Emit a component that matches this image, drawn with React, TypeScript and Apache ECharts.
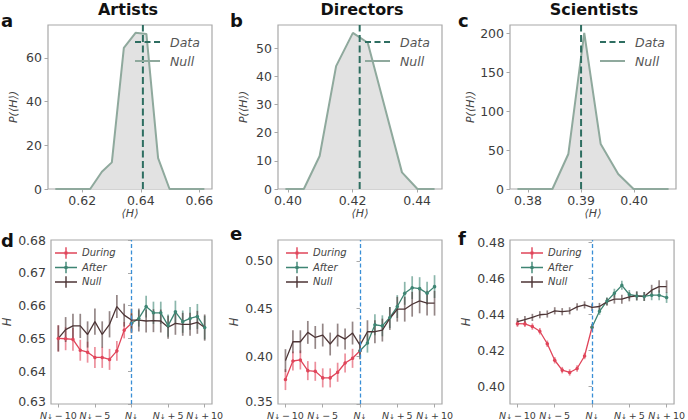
import React, { useEffect, useRef } from 'react';
import * as echarts from 'echarts';

const FONT = '"DejaVu Sans", sans-serif';

const panelNames = ['Artists', 'Directors', 'Scientists'];
const topLetters = ['a', 'b', 'c'];
const bottomLetters = ['d', 'e', 'f'];

// ---- Top row: null distribution of <H> ----
const artistsNullH = [0.6108, 0.6227, 0.6267, 0.6301, 0.6342, 0.6382, 0.6419, 0.6459, 0.6498, 0.6617];
const artistsNullP = [0, 0, 7.9, 12.2, 64.6, 71.5, 71.0, 14.1, 0, 0];
const directorsNullH = [0.3992, 0.4049, 0.4098, 0.4149, 0.4201, 0.4247, 0.4300, 0.4353, 0.4401, 0.4454];
const directorsNullP = [0, 0, 11.7, 43.6, 55.4, 51.9, 28.9, 5.9, 0, 0];
const scientistsNullH = [0.3780, 0.3846, 0.3876, 0.3906, 0.3937, 0.3970, 0.3999, 0.4065];
const scientistsNullP = [0, 0, 45, 201, 57.8, 19.3, 0, 0];
const dataH = [0.6407, 0.4222, 0.3900];

const topXMin = [0.6083, 0.3969, 0.3766];
const topXMax = [0.6643, 0.4477, 0.4079];
const topYMax = [75.1, 58.2, 211];
const topXTicks = [[0.62, 0.64, 0.66], [0.40, 0.42, 0.44], [0.38, 0.39, 0.40]];
const topYTicks = [[0, 20, 40, 60], [0, 10, 20, 30, 40, 50], [0, 50, 100, 150, 200]];

// ---- Bottom row: H around the event ----
const offsetsDuring = [-10, -9, -8, -7, -6, -5, -4, -3, -2, -1, 0];
const offsetsAfter = [0, 1, 2, 3, 4, 5, 6, 7, 8, 9, 10];
const offsetsNull = [-10, -9, -8, -7, -6, -5, -4, -3, -2, -1, 0, 1, 2, 3, 4, 5, 6, 7, 8, 9, 10];

const artistsDuring = [0.6500, 0.6499, 0.6497, 0.6464, 0.6458, 0.6442, 0.6442, 0.6436, 0.6462, 0.6525, 0.6546];
const artistsDuringErr = [0.0040, 0.0035, 0.0035, 0.0032, 0.0032, 0.0032, 0.0032, 0.0032, 0.0030, 0.0025, 0.0030];
const artistsAfter = [0.6546, 0.6561, 0.6597, 0.6578, 0.6578, 0.6539, 0.6581, 0.6551, 0.6561, 0.6567, 0.6533];
const artistsAfterErr = [0.0030, 0.0025, 0.0033, 0.0034, 0.0034, 0.0034, 0.0034, 0.0034, 0.0035, 0.0038, 0.0036];
const artistsNull = [0.6500, 0.6527, 0.6538, 0.6538, 0.6512, 0.6551, 0.6512, 0.6543, 0.6597, 0.6571, 0.6556, 0.6556, 0.6553, 0.6554, 0.6553, 0.6534, 0.6546, 0.6543, 0.6543, 0.6549, 0.6533];
const artistsNullErr = [0.0040, 0.0038, 0.0037, 0.0037, 0.0040, 0.0040, 0.0040, 0.0040, 0.0035, 0.0035, 0.0035, 0.0035, 0.0035, 0.0035, 0.0035, 0.0035, 0.0035, 0.0035, 0.0035, 0.0035, 0.0040];

const directorsDuring = [0.3756, 0.3951, 0.3962, 0.3850, 0.3843, 0.3774, 0.3774, 0.3833, 0.3930, 0.3979, 0.4059];
const directorsDuringErr = [0.011, 0.010, 0.010, 0.010, 0.010, 0.010, 0.010, 0.010, 0.010, 0.010, 0.009];
const directorsAfter = [0.4059, 0.4139, 0.4331, 0.4320, 0.4407, 0.4522, 0.4661, 0.4720, 0.4710, 0.4661, 0.4731];
const directorsAfterErr = [0.009, 0.010, 0.011, 0.011, 0.011, 0.012, 0.012, 0.012, 0.012, 0.012, 0.012];
const directorsNull = [0.3955, 0.4153, 0.4153, 0.4251, 0.4198, 0.4223, 0.4129, 0.4223, 0.4181, 0.4244, 0.4118, 0.4258, 0.4258, 0.4275, 0.4397, 0.4494, 0.4494, 0.4546, 0.4581, 0.4557, 0.4557];
const directorsNullErr = [0.012, 0.012, 0.012, 0.012, 0.012, 0.012, 0.012, 0.012, 0.011, 0.012, 0.011, 0.012, 0.012, 0.012, 0.012, 0.013, 0.013, 0.013, 0.013, 0.013, 0.013];

const scientistsDuring = [0.4348, 0.4347, 0.4332, 0.4306, 0.4236, 0.4144, 0.4089, 0.4076, 0.4098, 0.4168, 0.4328];
const scientistsDuringErr = [0.0018, 0.0018, 0.0018, 0.0018, 0.0018, 0.0018, 0.0018, 0.0018, 0.0018, 0.0018, 0.0018];
const scientistsAfter = [0.4328, 0.4417, 0.4474, 0.4518, 0.4562, 0.4511, 0.4503, 0.4500, 0.4507, 0.4507, 0.4494];
const scientistsAfterErr = [0.0020, 0.0020, 0.0022, 0.0025, 0.0025, 0.0025, 0.0025, 0.0025, 0.0028, 0.0028, 0.0030];
const scientistsNull = [0.4359, 0.4371, 0.4383, 0.4398, 0.4402, 0.4420, 0.4415, 0.4420, 0.4442, 0.4453, 0.4439, 0.4444, 0.4470, 0.4485, 0.4485, 0.4498, 0.4503, 0.4500, 0.4535, 0.4555, 0.4555];
const scientistsNullErr = [0.0020, 0.0020, 0.0020, 0.0020, 0.0020, 0.0020, 0.0020, 0.0020, 0.0020, 0.0020, 0.0020, 0.0020, 0.0022, 0.0025, 0.0025, 0.0025, 0.0025, 0.0025, 0.0030, 0.0035, 0.0035];

const bottomYMin = [0.63, 0.35, 0.39];
const bottomYMax = [0.68, 0.522, 0.4815];
const bottomYTicks = [[0.63, 0.64, 0.65, 0.66, 0.67, 0.68], [0.35, 0.40, 0.45, 0.50], [0.40, 0.42, 0.44, 0.46, 0.48]];
const bottomXTicks = [-10, -5, 0, 5, 10];
const bottomXTickLabels = ['N↓\u2009−\u200910', 'N↓\u2009−\u20095', 'N↓', 'N↓\u2009+\u20095', 'N↓\u2009+\u200910'];

const C_DURING = '#e0455a';
const C_AFTER = '#3e8573';
const C_NULLB = '#4d3536';
const C_NULLT = '#8fa99d';
const C_FILL = '#e2e2e2';
const C_DATA = '#2e6e61';
const C_VLINE = '#3a8fd6';
const C_AXIS = '#a8a8a8';
const C_TICKLABEL = '#3d3d3d';

const ICON_SOLID = 'path://M0,0H25V2H0Z';
const ICON_DASH = 'path://M0,0H6V2H0Z M9.5,0H15.5V2H9.5Z M19,0H25V2H19Z';
const ICON_ERR_DOT = 'path://M0,5H22V6.3H0Z M10.3,0H11.7V11.3H10.3Z M9.5,4.2H12.5V7.1H9.5Z';
const ICON_ERR = 'path://M0,5H22V6.3H0Z M10.3,0H11.7V11.3H10.3Z';

export default function App() {
  const ref = useRef<HTMLDivElement>(null);

  useEffect(() => {
    if (!ref.current) return;
    const chart = echarts.init(ref.current, null, { renderer: 'svg' });

    const topNull = [
      [artistsNullH, artistsNullP],
      [directorsNullH, directorsNullP],
      [scientistsNullH, scientistsNullP],
    ];
    const bottomData = [
      [artistsDuring, artistsDuringErr, artistsAfter, artistsAfterErr, artistsNull, artistsNullErr],
      [directorsDuring, directorsDuringErr, directorsAfter, directorsAfterErr, directorsNull, directorsNullErr],
      [scientistsDuring, scientistsDuringErr, scientistsAfter, scientistsAfterErr, scientistsNull, scientistsNullErr],
    ];

    const lefts = [48, 278, 510];
    const widths = [164, 164, 166];
    const topLegendLeft = [135, 365, 600];
    const bottomLegendLeft = [55, 286, 521];

    const grids: any[] = [];
    const xAxes: any[] = [];
    const yAxes: any[] = [];
    const series: any[] = [];
    const legends: any[] = [];
    const graphics: any[] = [];

    const tickStyle = { show: true, length: 3.5, lineStyle: { color: C_AXIS, width: 1 } };
    const labelBase = { color: C_TICKLABEL, fontSize: 12.5, fontFamily: FONT, hideOverlap: false, showMinLabel: true, showMaxLabel: true, interval: 0 };

    const errRender = (color: string) => (params: any, api: any) => {
      const x = api.value(0);
      const p1 = api.coord([x, api.value(1)]);
      const p2 = api.coord([x, api.value(2)]);
      return {
        type: 'line',
        shape: { x1: p1[0], y1: p1[1], x2: p2[0], y2: p2[1] },
        style: { stroke: color, lineWidth: 1.7, opacity: 0.6 },
      };
    };

    for (let i = 0; i < 3; i++) {
      // ---- top panel ----
      const gi = 2 * i;
      grids.push({ left: lefts[i], top: 25, width: widths[i], height: 164, show: true, borderColor: C_AXIS, borderWidth: 1.2, backgroundColor: 'transparent' });
      xAxes.push({
        type: 'value', gridIndex: gi, min: topXMin[i], max: topXMax[i],
        axisLine: { show: false }, splitLine: { show: false },
        axisTick: { ...tickStyle, customValues: topXTicks[i] },
        axisLabel: { ...labelBase, margin: 5, customValues: topXTicks[i], formatter: (v: number) => v.toFixed(2) },
        name: '⟨H⟩', nameLocation: 'middle', nameGap: 18,
        nameTextStyle: { fontStyle: 'italic', fontSize: 11, color: '#444', fontFamily: FONT },
      });
      yAxes.push({
        type: 'value', gridIndex: gi, min: 0, max: topYMax[i],
        axisLine: { show: false }, splitLine: { show: false },
        axisTick: { ...tickStyle, customValues: topYTicks[i] },
        axisLabel: { ...labelBase, margin: 6, customValues: topYTicks[i] },
        name: 'P(⟨H⟩)', nameLocation: 'middle', nameGap: 29, nameRotate: 90,
        nameTextStyle: { fontStyle: 'italic', fontSize: 11, color: '#444', fontFamily: FONT },
      });
      const [hx, py] = topNull[i];
      series.push({
        type: 'line', name: 'Null·' + topLetters[i], xAxisIndex: gi, yAxisIndex: gi,
        data: hx.map((h, j) => [h, py[j]]), symbol: 'none',
        lineStyle: { color: C_NULLT, width: 2 }, itemStyle: { color: C_NULLT },
        areaStyle: { color: C_FILL, opacity: 1 }, z: 2,
      });
      series.push({
        type: 'line', name: 'Data·' + topLetters[i], xAxisIndex: gi, yAxisIndex: gi,
        data: [[dataH[i], 0], [dataH[i], topYMax[i]]], symbol: 'none',
        lineStyle: { color: C_DATA, width: 2, type: [7, 3.5] }, itemStyle: { color: C_DATA }, z: 3,
      });
      legends.push({
        left: topLegendLeft[i], top: 35, orient: 'vertical', padding: 0, itemGap: 5,
        itemWidth: 25, itemHeight: 2, selectedMode: false,
        itemStyle: { borderWidth: 0 },
        data: [
          { name: 'Data·' + topLetters[i], icon: ICON_DASH, itemStyle: { color: C_DATA } },
          { name: 'Null·' + topLetters[i], icon: ICON_SOLID, itemStyle: { color: C_NULLT } },
        ],
        formatter: (n: string) => n.split('·')[0],
        textStyle: { fontStyle: 'italic', fontSize: 12.5, color: '#555', fontFamily: FONT, lineHeight: 14, padding: [0, 0, 0, 5] },
      });

      // ---- bottom panel ----
      const bi = 2 * i + 1;
      const yMin = bottomYMin[i];
      grids.push({ left: lefts[i], top: 240, width: widths[i], height: 165, show: true, borderColor: C_AXIS, borderWidth: 1.2, backgroundColor: 'transparent' });
      xAxes.push({
        type: 'value', gridIndex: bi, min: -11, max: 11,
        axisLine: { show: false }, splitLine: { show: false },
        axisTick: { ...tickStyle, customValues: bottomXTicks },
        axisLabel: {
          color: C_TICKLABEL, fontFamily: FONT, margin: 6, customValues: bottomXTicks,
          hideOverlap: false, showMinLabel: true, showMaxLabel: true, interval: 0,
          formatter: (v: number) => {
            const lab = bottomXTickLabels[bottomXTicks.indexOf(v)] || '';
            return `{n|${lab[0]}}{s|${lab[1]}}` + (lab.length > 2 ? `{t|${lab.slice(2)}}` : '');
          },
          rich: {
            n: { fontSize: 9.5, fontStyle: 'italic', color: C_TICKLABEL, fontFamily: FONT, lineHeight: 10 },
            s: { fontSize: 7, color: C_TICKLABEL, fontFamily: FONT, lineHeight: 7, verticalAlign: 'bottom' },
            t: { fontSize: 9.5, color: C_TICKLABEL, fontFamily: FONT, lineHeight: 10 },
          },
        },
      });
      yAxes.push({
        type: 'value', gridIndex: bi, min: yMin, max: bottomYMax[i],
        axisLine: { show: false }, splitLine: { show: false },
        axisTick: { ...tickStyle, customValues: bottomYTicks[i] },
        axisLabel: {
          ...labelBase, fontSize: 12.5, lineHeight: 9, margin: 5, customValues: bottomYTicks[i],
          formatter: (v: number) => (Math.abs(v - yMin) < 1e-9 ? `{lo|${v.toFixed(2)}}` : v.toFixed(2)),
          rich: {
            lo: { fontSize: 12.5, color: C_TICKLABEL, fontFamily: FONT, lineHeight: 9, padding: [0, 0, 5, 0] },
          },
        },
        name: 'H', nameLocation: 'middle', nameGap: 38, nameRotate: 90,
        nameTextStyle: { fontStyle: 'italic', fontSize: 11.5, color: '#444', fontFamily: FONT },
      });
      const [dur, durE, aft, aftE, nul, nulE] = bottomData[i];
      const L = bottomLetters[i];
      series.push({
        type: 'custom', xAxisIndex: bi, yAxisIndex: bi, renderItem: errRender(C_DURING),
        data: offsetsDuring.map((x, j) => [x, dur[j] - durE[j], dur[j] + durE[j]]),
        encode: { x: 0, y: [1, 2] }, z: 1, silent: true,
      });
      series.push({
        type: 'custom', xAxisIndex: bi, yAxisIndex: bi, renderItem: errRender(C_AFTER),
        data: offsetsAfter.map((x, j) => [x, aft[j] - aftE[j], aft[j] + aftE[j]]),
        encode: { x: 0, y: [1, 2] }, z: 1, silent: true,
      });
      series.push({
        type: 'custom', xAxisIndex: bi, yAxisIndex: bi, renderItem: errRender(C_NULLB),
        data: offsetsNull.map((x, j) => [x, nul[j] - nulE[j], nul[j] + nulE[j]]),
        encode: { x: 0, y: [1, 2] }, z: 1, silent: true,
      });
      series.push({
        type: 'line', name: 'During·' + L, xAxisIndex: bi, yAxisIndex: bi,
        data: offsetsDuring.map((x, j) => [x, dur[j]]), symbol: 'circle', symbolSize: 3.5,
        lineStyle: { color: C_DURING, width: 1.3 }, itemStyle: { color: C_DURING }, z: 3,
        markLine: {
          silent: true, symbol: ['none', 'none'], label: { show: false },
          lineStyle: { color: C_VLINE, width: 1.3, type: [4, 2.5] },
          data: [{ xAxis: 0 }],
        },
      });
      series.push({
        type: 'line', name: 'After·' + L, xAxisIndex: bi, yAxisIndex: bi,
        data: offsetsAfter.map((x, j) => [x, aft[j]]), symbol: 'circle', symbolSize: 3.5,
        lineStyle: { color: C_AFTER, width: 1.3 }, itemStyle: { color: C_AFTER }, z: 3,
      });
      series.push({
        type: 'line', name: 'Null·' + L, xAxisIndex: bi, yAxisIndex: bi,
        data: offsetsNull.map((x, j) => [x, nul[j]]), symbol: 'none',
        lineStyle: { color: C_NULLB, width: 1.3 }, itemStyle: { color: C_NULLB }, z: 3,
      });
      legends.push({
        left: bottomLegendLeft[i], top: 247, orient: 'vertical', padding: 0, itemGap: 2.5,
        itemWidth: 22, itemHeight: 11.3, selectedMode: false,
        itemStyle: { borderWidth: 0 },
        data: [
          { name: 'During·' + L, icon: ICON_ERR_DOT, itemStyle: { color: C_DURING } },
          { name: 'After·' + L, icon: ICON_ERR_DOT, itemStyle: { color: C_AFTER } },
          { name: 'Null·' + L, icon: ICON_ERR, itemStyle: { color: C_NULLB } },
        ],
        formatter: (n: string) => n.split('·')[0],
        textStyle: { fontStyle: 'italic', fontSize: 10, color: '#444', fontFamily: FONT, lineHeight: 12 },
      });
    }

    const titleX = [128, 362, 594];
    for (let i = 0; i < 3; i++) {
      graphics.push({
        type: 'text', x: titleX[i], y: 9,
        style: { text: panelNames[i], align: 'center', verticalAlign: 'middle', fontSize: 16, fontWeight: 'bold', fontFamily: FONT, fill: '#111' },
      });
    }
    const letterX = [1, 230, 458];
    const topLetterY = [20.5, 20.5, 20.5];
    const bottomLetterY = [240.5, 233, 238];
    for (let i = 0; i < 3; i++) {
      graphics.push({
        type: 'text', x: letterX[i], y: topLetterY[i],
        style: { text: topLetters[i], align: 'left', verticalAlign: 'middle', fontSize: 18, fontWeight: 'bold', fontFamily: FONT, fill: '#111' },
      });
      graphics.push({
        type: 'text', x: letterX[i], y: bottomLetterY[i],
        style: { text: bottomLetters[i], align: 'left', verticalAlign: 'middle', fontSize: 18, fontWeight: 'bold', fontFamily: FONT, fill: '#111' },
      });
    }

    chart.setOption({
      animation: false,
      backgroundColor: '#ffffff',
      textStyle: { fontFamily: FONT },
      grid: grids,
      xAxis: xAxes,
      yAxis: yAxes,
      legend: legends,
      series,
      graphic: graphics,
    });

    return () => chart.dispose();
  }, []);

  return (
    <div style={{ position: 'absolute', left: 0, top: 0, width: 688, height: 420 }}>
      <div ref={ref} style={{ width: 688, height: 420 }} />
    </div>
  );
}
